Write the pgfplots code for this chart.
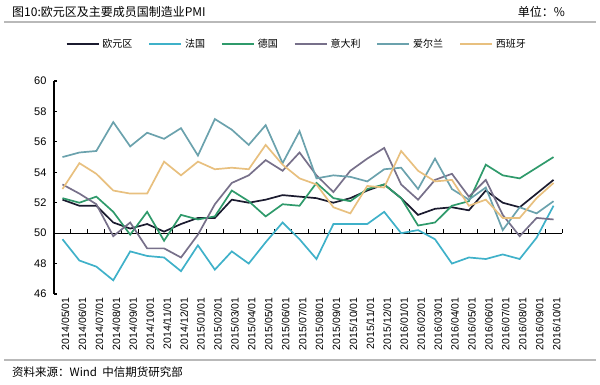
\documentclass[border=0pt]{standalone}
\usepackage{fontspec}
\setmainfont{Liberation Sans}
\newfontfamily\cjk{Noto Sans CJK SC}
\usepackage{pgfplots}
\usepackage{pgfplotstable}
\pgfplotsset{compat=1.18}
\definecolor{cEA}{HTML}{1B1B2F}
\definecolor{cFR}{HTML}{3FB1C9}
\definecolor{cDE}{HTML}{2F9A6B}
\definecolor{cIT}{HTML}{77708A}
\definecolor{cIE}{HTML}{6BA2AD}
\definecolor{cES}{HTML}{E8C07F}
\pgfplotstableread{
idx EA FR DE IT IE ES
0 52.2 49.6 52.3 53.2 55.0 52.9
1 51.8 48.2 52.0 52.6 55.3 54.6
2 51.8 47.8 52.4 51.9 55.4 53.9
3 50.7 46.9 51.4 49.8 57.3 52.8
4 50.3 48.8 49.9 50.7 55.7 52.6
5 50.6 48.5 51.4 49.0 56.6 52.6
6 50.1 48.4 49.5 49.0 56.2 54.7
7 50.6 47.5 51.2 48.4 56.9 53.8
8 51.0 49.2 50.9 49.9 55.1 54.7
9 51.0 47.6 51.1 51.9 57.5 54.2
10 52.2 48.8 52.8 53.3 56.8 54.3
11 52.0 48.0 52.1 53.8 55.8 54.2
12 52.2 49.4 51.1 54.8 57.1 55.8
13 52.5 50.7 51.9 54.1 54.6 54.5
14 52.4 49.6 51.8 55.3 56.7 53.6
15 52.3 48.3 53.3 53.8 53.6 53.2
16 52.0 50.6 52.3 52.7 53.8 51.7
17 52.3 50.6 52.1 54.1 53.7 51.3
18 52.8 50.6 52.9 54.9 53.4 53.1
19 53.2 51.4 53.2 55.6 54.2 53.0
20 52.3 50.0 52.3 53.2 54.3 55.4
21 51.2 50.2 50.5 52.2 52.9 54.1
22 51.6 49.6 50.7 53.5 54.9 53.4
23 51.7 48.0 51.8 53.9 52.9 53.5
24 51.5 48.4 52.1 52.4 52.2 51.8
25 52.8 48.3 54.5 53.5 53.0 52.2
26 52.0 48.6 53.8 51.2 50.2 51.0
27 51.7 48.3 53.6 49.8 51.7 51.0
28 52.6 49.7 54.3 51.0 51.3 52.3
29 53.5 51.8 55.0 50.9 52.1 53.3
}\pmi
\begin{document}
\begin{tikzpicture}[x=1pt,y=1pt]
\path[use as bounding box] (0,0) rectangle (600,384);
\node[anchor=west,inner sep=0pt] at (12,372) {\cjk\fontsize{12}{13}\selectfont 图10:欧元区及主要成员国制造业PMI};
\node[anchor=east,inner sep=0pt] at (565,372) {\cjk\fontsize{12}{13}\selectfont 单位：\%};
\draw[line width=2pt,color=gray!55] (4,362) -- (596,362);
\draw[line width=2pt,color=gray!55] (4,24) -- (596,24);
\node[anchor=west,inner sep=0pt] at (12,12) {\cjk\fontsize{11.5}{12}\selectfont 资料来源：Wind\ \ 中信期货研究部};
\begin{axis}[
  at={(54pt,90pt)}, anchor=south west,
  scale only axis, width=508pt, height=213pt,
  xmin=-0.5, xmax=29.5, ymin=46, ymax=60,
  axis y line*=left, axis x line*=bottom,
  x axis line style={draw=none},
  y axis line style={line width=1.2pt},
  xtick={0,...,29},
  xticklabels={2014/05/01,2014/06/01,2014/07/01,2014/08/01,2014/09/01,2014/10/01,2014/11/01,2014/12/01,2015/01/01,2015/02/01,2015/03/01,2015/04/01,2015/05/01,2015/06/01,2015/07/01,2015/08/01,2015/09/01,2015/10/01,2015/11/01,2015/12/01,2016/01/01,2016/02/01,2016/03/01,2016/04/01,2016/05/01,2016/06/01,2016/07/01,2016/08/01,2016/09/01,2016/10/01},
  major x tick style={draw=none},
  xticklabel style={rotate=90, anchor=east, yshift=-3pt, font=\fontsize{10.5}{11}\selectfont},
  ytick={46,48,...,60},
  y tick style={line width=1.2pt, black},
  tick align=inside,
  major tick length=3pt,
  yticklabel style={xshift=-4pt, font=\fontsize{11}{12}\selectfont},
  /pgf/number format/assume math mode=true,
  legend style={at={(0.478,1.174)}, anchor=center, draw=none, fill=none,
    legend columns=6, font=\cjk\fontsize{10}{11}\selectfont,
    /tikz/every even column/.append style={column sep=14pt},
    /tikz/every odd column/.append style={column sep=1pt}},
  legend image code/.code={\draw[#1] (0pt,0pt) -- (32pt,0pt);},
  every axis plot/.append style={line width=1.7pt, mark=none},
  clip=false,
]
\draw[line width=1.2pt] (axis cs:-0.5,50) -- (axis cs:29.5,50);
\pgfplotsinvokeforeach{0,...,29}{\draw[line width=1pt] (axis cs:#1+0.5,50) -- ++(0pt,4pt);}
\addplot[color=cEA] table[x=idx,y=EA]{\pmi};
\addlegendentry{欧元区}
\addplot[color=cFR] table[x=idx,y=FR]{\pmi};
\addlegendentry{法国}
\addplot[color=cDE] table[x=idx,y=DE]{\pmi};
\addlegendentry{德国}
\addplot[color=cIT] table[x=idx,y=IT]{\pmi};
\addlegendentry{意大利}
\addplot[color=cIE] table[x=idx,y=IE]{\pmi};
\addlegendentry{爱尔兰}
\addplot[color=cES] table[x=idx,y=ES]{\pmi};
\addlegendentry{西班牙}
\end{axis}
\end{tikzpicture}
\end{document}
